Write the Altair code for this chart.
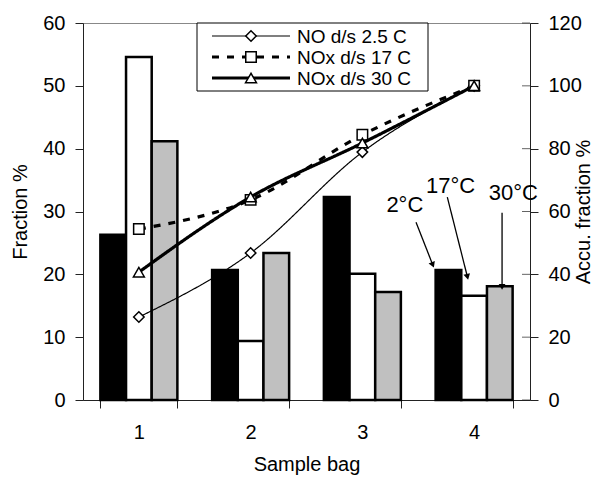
import math
import altair as alt
import pandas as pd

# ---------------- data ----------------
bags = ["1", "2", "3", "4"]
bar_series = ["2°C", "17°C", "30°C"]
bar_2C = [26.3, 20.7, 32.3, 20.7]
bar_17C = [54.6, 9.4, 20.1, 16.6]
bar_30C = [41.2, 23.4, 17.2, 18.1]

line_series = ["NO d/s 2.5 C", "NOx d/s 17 C", "NOx d/s 30 C"]
acc_NO_2_5C = [26.4, 46.8, 78.9, 100.0]
acc_NOx_17C = [54.4, 63.7, 84.4, 100.0]
acc_NOx_30C = [40.7, 64.6, 81.8, 100.0]

left_ticks = [0, 10, 20, 30, 40, 50, 60]
right_ticks = [0, 20, 40, 60, 80, 100, 120]

# annotation positions in data units (bag axis, left % axis)
ann_labels = ["2°C", "17°C", "30°C"]
ann_text_x = [3.38, 3.79, 4.35]
ann_text_y = [29.9, 32.9, 31.8]
ann_from_x = [3.48, 3.76, 4.25]
ann_from_y = [28.3, 32.3, 29.8]
ann_to_x = [3.63, 3.94, 4.25]
ann_to_y = [21.5, 19.6, 18.0]

# ---------------- layout ----------------
W, H = 447, 377
FONT = "Liberation Sans"

bars_df = pd.DataFrame(
    [{"bag": b, "series": s, "value": v}
     for s, vals in zip(bar_series, [bar_2C, bar_17C, bar_30C])
     for b, v in zip(bags, vals)]
)
lines_df = pd.DataFrame(
    [{"bag": b, "series": s, "value": v}
     for s, vals in zip(line_series, [acc_NO_2_5C, acc_NOx_17C, acc_NOx_30C])
     for b, v in zip(bags, vals)]
)
rtick_df = pd.DataFrame({"v": right_ticks})

px_per_x = W / 4.0
px_per_y = H / 60.0
ann_df = pd.DataFrame({
    "label": ann_labels, "tx": ann_text_x, "ty": ann_text_y,
    "fx": ann_from_x, "fy": ann_from_y, "ex": ann_to_x, "ey": ann_to_y,
})
ann_df["angle"] = [
    (360 - math.degrees(math.atan2((ex - fx) * px_per_x, (fy - ey) * px_per_y))) % 360
    for fx, fy, ex, ey in zip(ann_from_x, ann_from_y, ann_to_x, ann_to_y)
]

pin, pout = 0.311, 0.1555
xband = alt.Scale(domain=bags, paddingInner=pin, paddingOuter=pout)
yleft = alt.Scale(domain=[0, 60])
yright = alt.Scale(domain=[0, 120])
xq = alt.Scale(domain=[0.5, 4.5], nice=False, zero=False)

bars = alt.Chart(bars_df).mark_bar(stroke="black", strokeWidth=2.5).encode(
    x=alt.X("bag:N", scale=xband, title="Sample bag",
            axis=alt.Axis(labelAngle=0, tickBand="extent", tickSize=8,
                          labelPadding=14, titlePadding=12)),
    xOffset=alt.XOffset("series:N", sort=bar_series,
                        scale=alt.Scale(domain=bar_series, paddingInner=0, paddingOuter=0)),
    y=alt.Y("value:Q", scale=yleft, title="Fraction %",
            axis=alt.Axis(values=left_ticks, tickSize=8, labelPadding=10, titlePadding=12)),
    fill=alt.Fill("series:N", scale=alt.Scale(domain=bar_series,
                                              range=["#000000", "#ffffff", "#c0c0c0"]),
                  legend=None),
)

styles = {
    "NO d/s 2.5 C": dict(width=1.2, dash=[1, 0], shape="diamond", size=110),
    "NOx d/s 17 C": dict(width=3.2, dash=[7, 8], shape="square", size=110),
    "NOx d/s 30 C": dict(width=3.2, dash=[1, 0], shape="triangle-up", size=120),
}

layers = [bars]
first = True
for s in line_series:
    st = styles[s]
    base = alt.Chart(lines_df).transform_filter(alt.datum.series == s)
    yenc = alt.Y("value:Q", scale=yright,
                 axis=(alt.Axis(orient="right", values=right_ticks, tickSize=8,
                                labelPadding=10, titlePadding=12, titleAngle=270,
                                title="Accu. fraction %") if first else None))
    ln = base.mark_line(interpolate="monotone", color="black",
                        strokeWidth=st["width"], strokeDash=st["dash"]).encode(
        x=alt.X("bag:N", scale=xband, axis=None), y=yenc)
    pt = base.mark_point(shape=st["shape"], size=st["size"], filled=True,
                         fill="white", stroke="black", strokeWidth=1.5, opacity=1).encode(
        x=alt.X("bag:N", scale=xband, axis=None),
        y=alt.Y("value:Q", scale=yright, axis=None))
    layers += [ln, pt]
    first = False

# inner half of the right-axis cross ticks
rticks = alt.Chart(rtick_df).mark_tick(orient="horizontal", size=8, thickness=1,
                                       color="#222222").encode(
    x=alt.value(W - 4), y=alt.Y("v:Q", scale=yright, axis=None))
layers.append(rticks)

# annotations
ann = alt.Chart(ann_df)
ann_text = ann.mark_text(font=FONT, fontSize=22, baseline="alphabetic",
                         align="center", color="black").encode(
    x=alt.X("tx:Q", scale=xq, axis=None),
    y=alt.Y("ty:Q", scale=yleft, axis=None),
    text="label:N")
ann_rule = ann.mark_rule(color="black", strokeWidth=1.3).encode(
    x=alt.X("fx:Q", scale=xq, axis=None), x2="ex:Q",
    y=alt.Y("fy:Q", scale=yleft, axis=None), y2="ey:Q")
ann_head = ann.mark_point(shape="triangle-down", filled=True, color="black",
                          size=45, opacity=1).encode(
    x=alt.X("ex:Q", scale=xq, axis=None),
    y=alt.Y("ey:Q", scale=yleft, axis=None),
    angle=alt.Angle("angle:Q", scale=None))
layers += [ann_text, ann_rule, ann_head]

# legend box
one = pd.DataFrame({"k": [0]})
leg_x0, leg_x1, leg_y0, leg_y1 = 114, 345, 0, 68
leg_rows = [13, 34, 55]
leg_box = alt.Chart(one).mark_rect(fill="white", stroke="black", strokeWidth=1).encode(
    x=alt.value(leg_x0), x2=alt.value(leg_x1), y=alt.value(leg_y0), y2=alt.value(leg_y1))
layers.append(leg_box)
for s, ry in zip(line_series, leg_rows):
    st = styles[s]
    layers.append(alt.Chart(one).mark_rule(color="black", strokeWidth=st["width"],
                                           strokeDash=st["dash"]).encode(
        x=alt.value(129), x2=alt.value(207), y=alt.value(ry)))
    layers.append(alt.Chart(one).mark_point(shape=st["shape"], size=st["size"], filled=True,
                                            fill="white", stroke="black", strokeWidth=1.5,
                                            opacity=1).encode(
        x=alt.value(168), y=alt.value(ry)))
    layers.append(alt.Chart(one).mark_text(text=s, font=FONT, fontSize=19, align="left",
                                           baseline="middle", color="black").encode(
        x=alt.value(214), y=alt.value(ry + 1)))

chart = alt.layer(*layers).resolve_scale(
    x="independent", y="independent"
).properties(
    width=W, height=H,
    autosize=alt.AutoSizeParams(type="none"),
    padding={"left": 75, "top": 15, "right": 68, "bottom": 77},
).configure_axis(
    labelFont=FONT, titleFont=FONT, labelFontSize=20, titleFontSize=20,
    titleFontWeight="normal", labelColor="black", titleColor="black",
    domainColor="#222222", tickColor="#222222", grid=False,
).configure_view(stroke="#888888", strokeWidth=1)

chart.save("out.html", embed_options={"renderer": "svg", "actions": False})
